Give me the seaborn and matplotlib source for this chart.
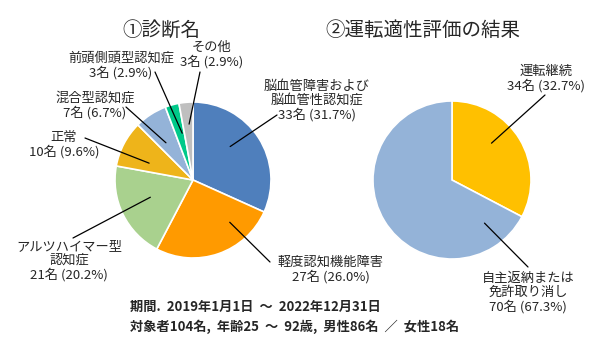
import numpy as np
import matplotlib.pyplot as plt
import seaborn as sns

# data
diag_labels = ['脳血管障害および\n脳血管性認知症', '軽度認知機能障害', 'アルツハイマー型\n認知症',
               '正常', '混合型認知症', '前頭側頭型認知症', 'その他']
diag_counts = [33, 27, 21, 10, 7, 3, 3]
diag_pcts = ['31.7%', '26.0%', '20.2%', '9.6%', '6.7%', '2.9%', '2.9%']
diag_colors = ['#4F7FBC', '#FF9A00', '#A9D18E', '#EEB41A', '#94B3D8', '#00C98A', '#BFBFBF']

result_labels = ['運転継続', '自主返納または\n免許取り消し']
result_counts = [34, 70]
result_pcts = ['32.7%', '67.3%']
result_colors = ['#FFC000', '#94B3D8']

footer = ['期間.  2019年1月1日  ～  2022年12月31日',
          '対象者104名,  年齢25  ～  92歳,  男性86名  ／  女性18名']

sns.set_style('white')
plt.rcParams['font.family'] = ['Noto Sans CJK JP', 'DejaVu Sans']

W, H = 600, 352
fig = plt.figure(figsize=(6, 3.52), dpi=100)
ax = fig.add_axes([0, 0, 1, 1])
ax.set_xlim(0, W)
ax.set_ylim(0, H)
ax.set_aspect('equal')
ax.axis('off')


def P(x, y):
    # image pixel coords -> axes coords
    return (x, H - y)


R = 78
c1 = P(193, 180)
c2 = P(452, 180)

ax.pie(diag_counts, colors=diag_colors, startangle=90, counterclock=False,
       center=c1, radius=R, wedgeprops=dict(edgecolor='white', linewidth=1.2))
ax.pie(result_counts, colors=result_colors, startangle=90, counterclock=False,
       center=c2, radius=R + 1, wedgeprops=dict(edgecolor='white', linewidth=1.2))
ax.set_xlim(0, W)
ax.set_ylim(0, H)

# titles
ax.text(*P(161, 30), '①診断名', fontsize=14, ha='center', va='center')
ax.text(*P(423, 30), '②運転適性評価の結果', fontsize=14, ha='center', va='center')

# label layout: text centre (image px) and leader anchor (angle deg, radius px)
diag_text_pos = [(317, 101), (331, 270), (69, 261), (64, 145), (95, 106), (121, 66), (212, 55)]
diag_anchor = [(42, 50), (-49, 56), (-158, 46), (159, 47), (126, 46), (103, 48), (94, 56)]
diag_line_end = [(277, 115), (270, 262), (73, 238), (85, 138), (126, 107), (155, 72), (200, 72)]

result_text_pos = [(546, 79), (528, 293)]
result_anchor = [(43, 54), (-53, 54)]
result_line_end = [(545, 95), (528, 267)]


def label_pie(center, labels, counts, pcts, text_pos, anchor, line_end):
    for lab, n, p, tp, (a, r), le in zip(labels, counts, pcts, text_pos, anchor, line_end):
        ax.text(*P(*tp), f'{lab}\n{n}名 ({p})', fontsize=9.5, ha='center', va='center',
                linespacing=1.1)
        ax_pt = (center[0] + r * np.cos(np.radians(a)), center[1] + r * np.sin(np.radians(a)))
        end = P(*le)
        ax.plot([ax_pt[0], end[0]], [ax_pt[1], end[1]], color='black', lw=0.9)


label_pie(c1, diag_labels, diag_counts, diag_pcts, diag_text_pos, diag_anchor, diag_line_end)
label_pie(c2, result_labels, result_counts, result_pcts, result_text_pos, result_anchor, result_line_end)

# footer
ax.text(*P(130, 307), footer[0], fontsize=9.5, fontweight='bold', ha='left', va='center')
ax.text(*P(130, 327), footer[1], fontsize=9.5, fontweight='bold', ha='left', va='center')

plt.savefig('out.png', dpi=100)
